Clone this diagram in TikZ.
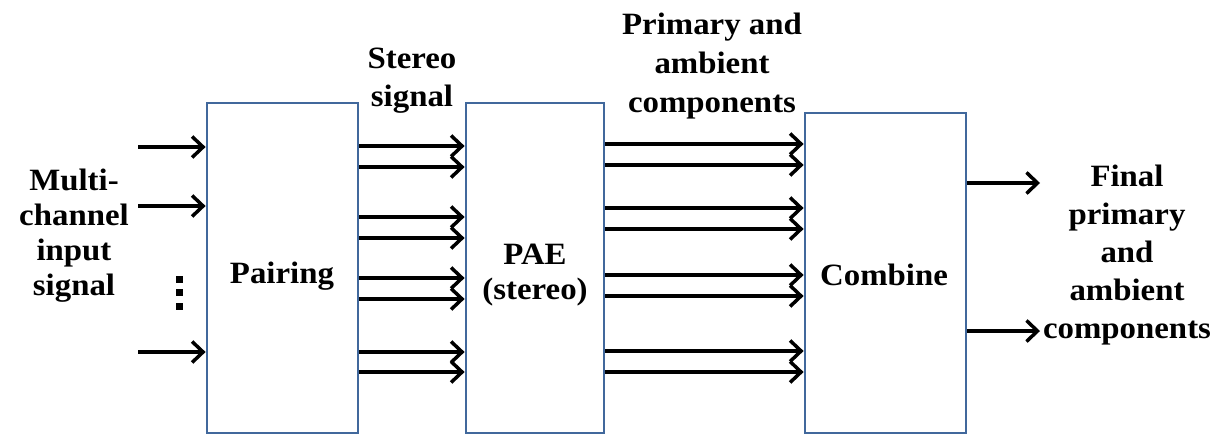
\documentclass[tikz,border=0pt]{standalone}
\usepackage{fontspec}
\setmainfont{Liberation Serif}[FakeStretch=1.06]
\usetikzlibrary{arrows.meta}
\definecolor{boxblue}{RGB}{65,104,156}
\tikzset{
  blockbox/.style={draw=boxblue, line width=2.8pt, inner sep=0pt, fill=white},
  sig/.style={line width=3.5pt, -{Straight Barb[length=11pt,width=21pt,line width=3.5pt]}},
  lbl/.style={inner sep=0pt, align=center, font=\bfseries},
}
\begin{document}
\begin{tikzpicture}[x=1pt,y=-1pt]
\useasboundingbox (0,0) rectangle (1222,434);
% boxes
\node[blockbox, minimum width=151pt, minimum height=330pt] (pair) at (282.5,268) {};
\node[blockbox, minimum width=138pt, minimum height=330pt] (pae) at (535,268) {};
\node[blockbox, minimum width=161pt, minimum height=320pt] (comb) at (885.5,273) {};
% box texts
\node[lbl, font=\bfseries\fontsize{31}{35}\selectfont] (tpair) at (282,276) {Pairing};
\node[lbl, font=\bfseries\fontsize{31}{35}\selectfont] (tpae) at (535,275) {PAE\\(stereo)};
\node[lbl, font=\bfseries\fontsize{31}{35}\selectfont] (tcomb) at (884,275) {Combine};
% outer labels
\node[lbl, font=\bfseries\fontsize{31}{35}\selectfont] (tin) at (74,236) {Multi-\\channel\\input\\signal};
\node[lbl, font=\bfseries\fontsize{31}{38}\selectfont] (tst) at (412,81) {Stereo\\signal};
\node[lbl, font=\bfseries\fontsize{31}{39}\selectfont] (tpa) at (712,66) {Primary and\\ambient\\components};
\node[lbl, font=\bfseries\fontsize{31}{38}\selectfont] (tfin) at (1127,255) {Final\\primary\\and\\ambient\\components};
% vertical dots
\fill (175.5,275.5) rectangle ++(7,7);
\fill (175.5,288.5) rectangle ++(7,7);
\fill (175.5,302.5) rectangle ++(7,7);
% input arrows
\coordinate (i1) at (138,147);
\coordinate (i2) at (138,206);
\coordinate (i3) at (138,352);
\foreach \c in {i1,i2,i3} \draw[sig] (\c) -- (pair.west |- \c);
% pairing -> PAE
\foreach \y in {146,167,217,238,278,299,352,372}
  \draw[sig] (pair.east |- 0,\y) -- (pae.west |- 0,\y);
% PAE -> combine
\foreach \y in {144,165,208,229,275,296,351,372}
  \draw[sig] (pae.east |- 0,\y) -- (comb.west |- 0,\y);
% outputs
\coordinate (o1) at (1040,183);
\coordinate (o2) at (1040,331);
\draw[sig] (comb.east |- o1) -- (o1);
\draw[sig] (comb.east |- o2) -- (o2);
\end{tikzpicture}
\end{document}
